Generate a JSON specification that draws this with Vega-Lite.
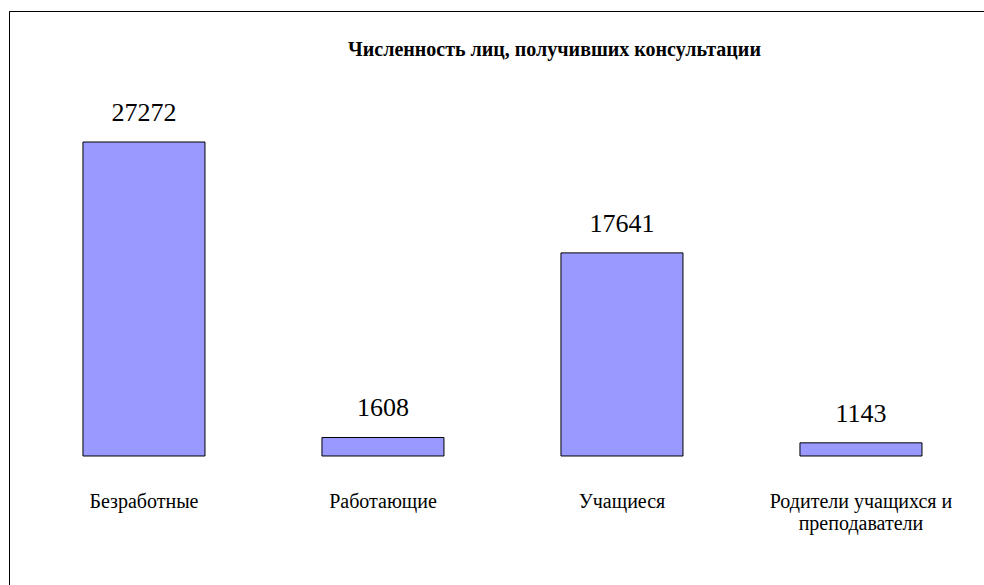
{
  "$schema": "https://vega.github.io/schema/vega-lite/v6.json",
  "width": 975,
  "height": 574,
  "autosize": {"type": "none"},
  "padding": {"left": 9, "top": 11, "right": 0, "bottom": 0},
  "background": "white",
  "config": {
    "view": {"stroke": "black", "strokeWidth": 1, "strokeDash": [975, 1549, 574]},
    "font": "Liberation Serif"
  },
  "title": {
    "text": "Численность лиц, получивших консультации",
    "font": "Liberation Serif",
    "fontSize": 20,
    "fontWeight": "bold",
    "color": "black",
    "anchor": "middle",
    "frame": "group",
    "orient": "top",
    "offset": -65,
    "dx": 58,
    "baseline": "alphabetic"
  },
  "data": {
    "values": [
      {"category": "Безработные", "value": 27272},
      {"category": "Работающие", "value": 1608},
      {"category": "Учащиеся", "value": 17641},
      {"category": "Родители учащихся и преподаватели", "value": 1143}
    ]
  },
  "encoding": {
    "x": {
      "field": "category",
      "type": "nominal",
      "sort": null,
      "scale": {"range": [0, 977], "paddingInner": 0.4895, "paddingOuter": 0.2887, "align": 0.536},
      "axis": {
        "orient": "bottom",
        "title": null,
        "domain": false,
        "ticks": false,
        "offset": -94,
        "labelPadding": 10,
        "labelAngle": 0,
        "labelBaseline": "middle",
        "labelFont": "Liberation Serif",
        "labelFontSize": 20,
        "labelColor": "black",
        "labelLineHeight": 22,
        "labelLimit": 0,
        "labelOverlap": false,
        "labelFlush": false,
        "labelExpr": "datum.label == 'Родители учащихся и преподаватели' ? ['Родители учащихся и', 'преподаватели'] : datum.label"
      }
    }
  },
  "layer": [
    {
      "mark": {"type": "bar", "fill": "#9999ff", "stroke": "black", "strokeWidth": 1},
      "encoding": {
        "y": {
          "field": "value",
          "type": "quantitative",
          "scale": {"domain": [-11378, 38650], "nice": false, "zero": false, "range": [576, 0]},
          "axis": null
        },
        "y2": {"datum": 0}
      }
    },
    {
      "mark": {"type": "text", "baseline": "alphabetic", "dy": -21, "fontSize": 26, "font": "Liberation Serif", "color": "black"},
      "encoding": {
        "y": {"field": "value", "type": "quantitative", "axis": null},
        "text": {"field": "value", "type": "quantitative", "format": "d"}
      }
    }
  ]
}
